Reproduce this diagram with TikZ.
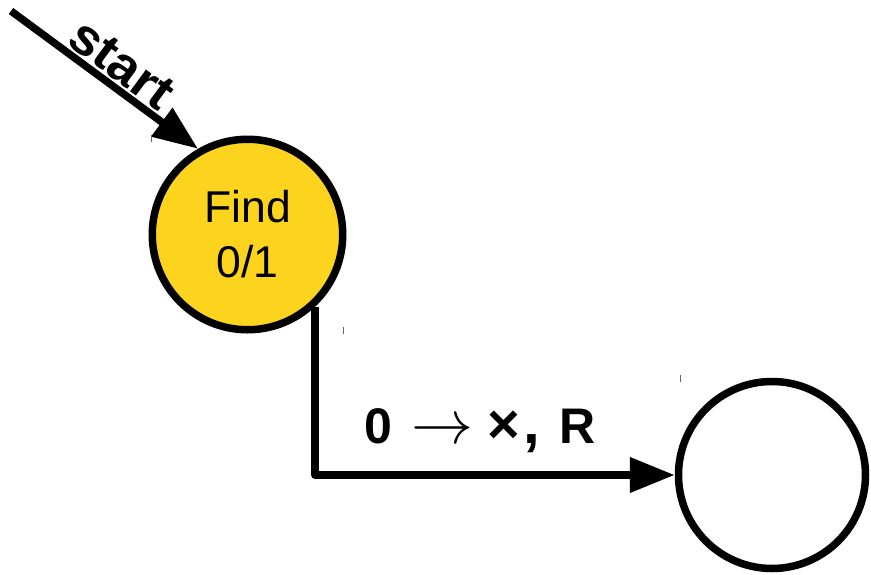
\documentclass[tikz,border=0pt]{standalone}
\usepackage{fontspec}
\setmainfont{Liberation Sans}
\usetikzlibrary{arrows.meta,calc}
\definecolor{findyellow}{RGB}{252,211,29}
\newcommand{\bigarrow}{\scalebox{6.2}{\fontsize{10}{12}\selectfont$\rightarrow$}}
\begin{document}
\begin{tikzpicture}[x=1pt,y=-1pt,
  state/.style={circle,draw=black,line width=7.5pt,inner sep=0pt},
  conn/.style={line width=7.5pt,line cap=butt,-{Triangle[length=45pt,width=34pt]}},
  tickmark/.style={line width=1pt,black!60}]
\useasboundingbox (0,0) rectangle (871,574);
\node[state,fill=findyellow,minimum size=190.5pt,align=center,
      font=\fontsize{44.5}{55}\selectfont] (find) at (247.5,234.5) {Find\\0/1};
\node[state,fill=white,minimum size=187pt] (blank) at (772,475) {};
\coordinate (startpt) at (11,11);
\draw[conn] (startpt) -- node[pos=0.52,sloped,above=2pt,inner sep=0pt,
      font=\fontsize{51}{51}\selectfont\bfseries] (startlbl) {\scalebox{1.05}[1]{start}} (find.120);
\draw[conn,line join=round] (find.-47) |- (blank);
\node[anchor=base west,font=\fontsize{50}{50}\selectfont\bfseries,inner sep=0pt] (lbl) at (364.5,443.3)
  {0\hspace{19pt}\bigarrow\hspace{14pt}\scalebox{1.12}{×}\hspace{3pt}\scalebox{1.2}{,}\hspace{20pt}R};
\draw[tickmark] (151.7,135) -- (151.7,142);
\draw[tickmark] (343.5,327) -- (343.5,334);
\draw[tickmark] (680,375) -- (680,382);
\end{tikzpicture}
\end{document}
